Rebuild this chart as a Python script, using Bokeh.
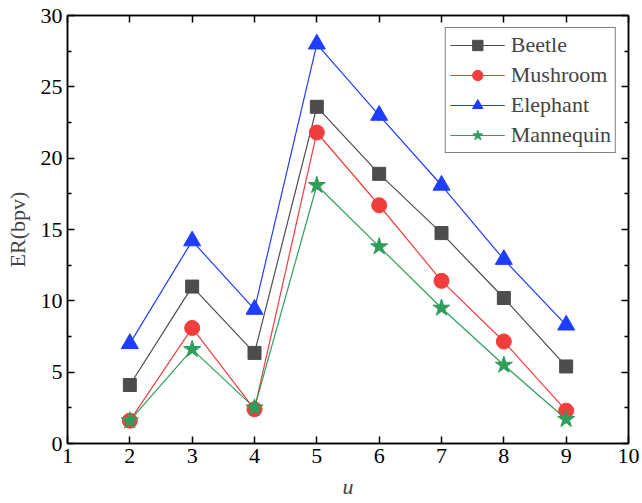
from bokeh.plotting import figure
from bokeh.models import LinearAxis, FixedTicker, Range1d, Legend, LegendItem
from bokeh.embed import file_html
from bokeh.resources import INLINE

u = [2, 3, 4, 5, 6, 7, 8, 9]
beetle = [4.1, 11.0, 6.35, 23.6, 18.9, 14.75, 10.2, 5.4]
mushroom = [1.6, 8.1, 2.4, 21.8, 16.7, 11.4, 7.15, 2.3]
elephant = [7.0, 14.2, 9.4, 28.0, 23.0, 18.1, 12.9, 8.3]
mannequin = [1.6, 6.6, 2.5, 18.1, 13.8, 9.5, 5.5, 1.7]
x_ticks = [1, 2, 3, 4, 5, 6, 7, 8, 9, 10]
y_ticks = [0, 5, 10, 15, 20, 25, 30]
y_minor = [2.5, 7.5, 12.5, 17.5, 22.5, 27.5]

FONT = "Liberation Serif"

p = figure(width=642, height=503, output_backend="svg", toolbar_location=None,
           x_range=Range1d(1, 10), y_range=Range1d(0, 30),
           min_border_left=67, min_border_right=14, min_border_top=15, min_border_bottom=60)
p.xgrid.visible = False
p.ygrid.visible = False
p.outline_line_color = "black"
p.outline_line_width = 1.5

def style(ax, ticks, minor, labels=True):
    ax.ticker = FixedTicker(ticks=ticks, minor_ticks=minor)
    ax.major_tick_in = 7
    ax.major_tick_out = 0
    ax.minor_tick_in = 4
    ax.minor_tick_out = 0
    ax.axis_line_color = "black"
    ax.axis_line_width = 1.5
    ax.major_tick_line_width = 1.5
    ax.minor_tick_line_width = 1.5
    ax.major_label_text_font = FONT
    ax.major_label_text_font_size = "22px"
    ax.major_label_text_color = "black"
    ax.major_label_standoff = 5
    if not labels:
        ax.major_label_text_font_size = "0px"
        ax.major_label_text_alpha = 0

style(p.xaxis[0], x_ticks, [])
style(p.yaxis[0], y_ticks, y_minor)
p.xaxis[0].axis_label = "u"
p.xaxis[0].axis_label_text_font = FONT
p.xaxis[0].axis_label_text_font_style = "italic"
p.xaxis[0].axis_label_text_font_size = "22px"
p.xaxis[0].axis_label_standoff = 8
p.yaxis[0].axis_label = "ER(bpv)"
p.yaxis[0].axis_label_text_font = FONT
p.yaxis[0].axis_label_text_font_style = "normal"
p.yaxis[0].axis_label_text_font_size = "22px"
p.yaxis[0].axis_label_standoff = 8

top = LinearAxis()
style(top, x_ticks, [], labels=False)
p.add_layout(top, "above")
right = LinearAxis()
style(right, y_ticks, y_minor, labels=False)
p.add_layout(right, "right")

series = [
    ("Beetle", beetle, "#4d4d4d", "square", 13),
    ("Mushroom", mushroom, "#f23d3d", "circle", 15),
    ("Elephant", elephant, "#1f3dff", "triangle", 17),
    ("Mannequin", mannequin, "#2e9e5a", "star", 18),
]
items = []
for name, ys, col, marker, size in series:
    l = p.line(u, ys, line_color=col, line_width=1.2)
    s = p.scatter(u, ys, marker=marker, size=size, fill_color=col, line_color=col)
    items.append(LegendItem(label=name, renderers=[l, s]))

legend = Legend(items=items, location="top_right")
legend.label_text_font = FONT
legend.label_text_font_size = "22px"
legend.glyph_width = 55
legend.glyph_height = 26
legend.label_height = 26
legend.label_standoff = 6
legend.spacing = 4
legend.padding = 4
legend.margin = 12
legend.border_line_color = "black"
legend.border_line_width = 1.2
legend.background_fill_alpha = 1
p.add_layout(legend)

open("out.html", "w").write(file_html(p, INLINE))
